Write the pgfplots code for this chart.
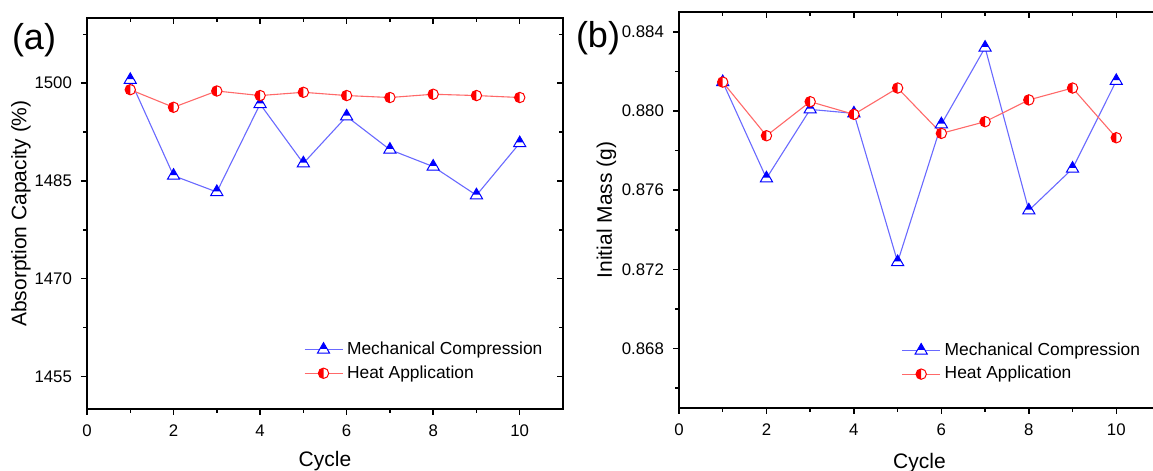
\documentclass[border=0pt]{standalone}
\usepackage{fontspec}
\setmainfont{Liberation Sans}
\usepackage{pgfplots}
\pgfplotsset{compat=1.18}
\usetikzlibrary{plotmarks}

\definecolor{bline}{RGB}{105,105,255}
\definecolor{rline}{RGB}{255,105,105}

\pgfdeclareplotmark{halftri}{%
  \pgfsetfillcolor{white}%
  \pgfpathmoveto{\pgfqpoint{0pt}{\pgfplotmarksize}}%
  \pgfpathlineto{\pgfqpoint{0.866\pgfplotmarksize}{-0.5\pgfplotmarksize}}%
  \pgfpathlineto{\pgfqpoint{-0.866\pgfplotmarksize}{-0.5\pgfplotmarksize}}%
  \pgfpathclose
  \pgfusepath{fill}%
  \pgfsetfillcolor{blue}%
  \pgfpathmoveto{\pgfqpoint{0pt}{\pgfplotmarksize}}%
  \pgfpathlineto{\pgfqpoint{0.52\pgfplotmarksize}{0.1\pgfplotmarksize}}%
  \pgfpathlineto{\pgfqpoint{-0.52\pgfplotmarksize}{0.1\pgfplotmarksize}}%
  \pgfpathclose
  \pgfusepath{fill}%
  \pgfpathmoveto{\pgfqpoint{0pt}{\pgfplotmarksize}}%
  \pgfpathlineto{\pgfqpoint{0.866\pgfplotmarksize}{-0.5\pgfplotmarksize}}%
  \pgfpathlineto{\pgfqpoint{-0.866\pgfplotmarksize}{-0.5\pgfplotmarksize}}%
  \pgfpathclose
  \pgfusepath{stroke}%
}
\pgfdeclareplotmark{halfcirc}{%
  \pgfsetfillcolor{white}%
  \pgfpathcircle{\pgfpointorigin}{\pgfplotmarksize}%
  \pgfusepath{fill}%
  \pgfsetfillcolor{red}%
  \pgfpathmoveto{\pgfqpoint{0pt}{\pgfplotmarksize}}%
  \pgfpatharc{90}{270}{\pgfplotmarksize}%
  \pgfpathclose
  \pgfusepath{fill}%
  \pgfpathcircle{\pgfpointorigin}{\pgfplotmarksize}%
  \pgfusepath{stroke}%
}

\pgfplotsset{
  panel/.style={
    scale only axis, anchor=south west,
    xmin=0, xmax=11,
    xtick={0,2,4,6,8,10}, minor xtick={1,3,5,7,9},
    axis line style={line width=0.75pt},
    major tick length=3pt, minor tick length=1.8pt,
    every tick/.style={black, line width=0.75pt},
    ticklabel style={font=\fontsize{8.4}{10}\selectfont},
    /pgf/number format/assume math mode=true,
    label style={font=\fontsize{10.5}{12}\selectfont},
    clip=false,
  },
  mainax/.style={panel, xtick pos=left, ytick pos=left, tick align=outside,
    xticklabels={0,2,4,6,8,10},
    xticklabel style={yshift=-1.2pt},
    yticklabel style={xshift=-1pt},
    legend cell align=left,
    legend image code/.code={%
      \draw[mark repeat=2, mark phase=2] plot coordinates {(0pt,0pt) (9.5pt,0pt) (19pt,0pt)};},
  },
  overax/.style={panel, xtick pos=right, ytick pos=right, tick align=inside,
    xticklabels={}, yticklabels={}},
  mc/.style={color=bline, line width=0.55pt, mark=halftri, mark size=3.5pt,
    mark options={draw=blue, line width=0.5pt, solid}},
  ha/.style={color=rline, line width=0.55pt, mark=halfcirc, mark size=2.6pt,
    mark options={draw=red, line width=0.5pt, solid}},
}

\begin{document}
\begin{tikzpicture}
\useasboundingbox (0pt,0pt) rectangle (576.5pt,235.5pt);
\clip (0pt,0pt) rectangle (576.5pt,235.5pt);

% ---------- panel (a) ----------
\begin{axis}[mainax, at={(43.5pt,31pt)}, width=238pt, height=195.5pt,
  ymin=1450, ymax=1510,
  ytick={1455,1470,1485,1500}, yticklabels={1455,1470,1485,1500},
  minor ytick={1462.5,1477.5,1492.5,1507.5},
  xlabel={Cycle}, ylabel={Absorption Capacity (\%)},
  xlabel style={at={(axis description cs:0.5,-0.133)}, anchor=center},
  ylabel style={at={(axis description cs:-0.139,0.5)}, anchor=center},
  legend style={draw=none, fill=none, at={(axis description cs:0.455,0.183)},
    anchor=north west, inner sep=0pt, font=\fontsize{8.7}{10}\selectfont},
]
\addplot[mc] coordinates {(1,1500.5) (2,1485.8) (3,1483.3) (4,1496.8) (5,1487.7)
  (6,1494.9) (7,1489.8) (8,1487.2) (9,1482.8) (10,1490.8)};
\addlegendentry{Mechanical Compression}
\addplot[ha] coordinates {(1,1499.0) (2,1496.3) (3,1498.8) (4,1498.1) (5,1498.6)
  (6,1498.1) (7,1497.8) (8,1498.3) (9,1498.1) (10,1497.8)};
\addlegendentry{Heat Application}
\end{axis}
\begin{axis}[overax, at={(43.5pt,31pt)}, width=238pt, height=195.5pt,
  ymin=1450, ymax=1510,
  ytick={1455,1470,1485,1500},
  minor ytick={1462.5,1477.5,1492.5,1507.5},
]
\end{axis}

% ---------- panel (b) ----------
\begin{axis}[mainax, at={(339.5pt,31.5pt)}, width=240.5pt, height=198pt,
  ymin=0.865, ymax=0.885,
  ytick={0.868,0.872,0.876,0.880,0.884},
  yticklabels={0.868,0.872,0.876,0.880,0.884},
  minor ytick={0.866,0.870,0.874,0.878,0.882},
  xlabel={Cycle}, ylabel={Initial Mass (g)},
  xlabel style={at={(axis description cs:0.5,-0.139)}, anchor=center},
  ylabel style={at={(axis description cs:-0.151,0.5)}, anchor=center},
  legend style={draw=none, fill=none, at={(axis description cs:0.462,0.176)},
    anchor=north west, inner sep=0pt, font=\fontsize{8.7}{10}\selectfont},
]
\addplot[mc] coordinates {(1,0.88146) (2,0.8766) (3,0.88008) (4,0.87988) (5,0.87237)
  (6,0.87933) (7,0.8832) (8,0.87498) (9,0.87709) (10,0.88152)};
\addlegendentry{Mechanical Compression}
\addplot[ha] coordinates {(1,0.88146) (2,0.87875) (3,0.88047) (4,0.87983) (5,0.88116)
  (6,0.87887) (7,0.87946) (8,0.88056) (9,0.88116) (10,0.87865)};
\addlegendentry{Heat Application}
\end{axis}
\begin{axis}[overax, at={(339.5pt,31.5pt)}, width=240.5pt, height=198pt,
  ymin=0.865, ymax=0.885,
  ytick={0.868,0.872,0.876,0.880,0.884},
  minor ytick={0.866,0.870,0.874,0.878,0.882},
]
\end{axis}

\node[font=\fontsize{18}{20}\selectfont] at (17pt,215.5pt) {(a)};
\node[font=\fontsize{18}{20}\selectfont] at (299pt,216.5pt) {(b)};
\end{tikzpicture}
\end{document}
